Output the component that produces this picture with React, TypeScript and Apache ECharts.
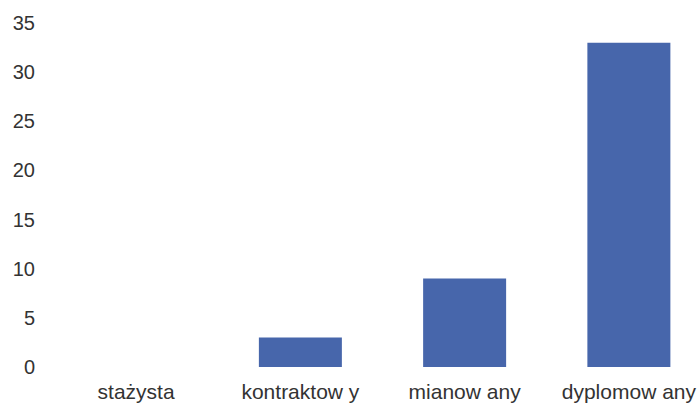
import React, { useEffect, useRef } from "react";
import * as echarts from "echarts";

const categories = ["stażysta", "kontraktow y", "mianow any", "dyplomow any"];
const values = [0, 3, 9, 33];
const yMax = 35;
const yInterval = 5;

export default function App() {
  const ref = useRef<HTMLDivElement>(null);
  useEffect(() => {
    if (!ref.current) return;
    const chart = echarts.init(ref.current, null, { renderer: "svg" });
    chart.setOption({
      animation: false,
      backgroundColor: "#ffffff",
      grid: { left: 54, top: 23, right: 9, bottom: 42, containLabel: false },
      xAxis: {
        type: "category",
        data: categories,
        axisLine: { show: false },
        axisTick: { show: false },
        axisLabel: {
          color: "#333333",
          fontFamily: "Liberation Sans, Arial, sans-serif",
          fontSize: 21,
          margin: 14,
          interval: 0,
        },
      },
      yAxis: {
        type: "value",
        min: 0,
        max: yMax,
        interval: yInterval,
        axisLine: { show: false },
        axisTick: { show: false },
        splitLine: { show: false },
        axisLabel: {
          color: "#333333",
          fontFamily: "Liberation Sans, Arial, sans-serif",
          fontSize: 20,
          margin: 19,
          align: "right",
        },
      },
      series: [
        {
          type: "bar",
          data: values,
          barWidth: 83,
          itemStyle: { color: "#4766ab" },
        },
      ],
    });
    return () => chart.dispose();
  }, []);
  return (
    <div
      style={{
        position: "fixed",
        left: 0,
        top: 0,
        width: 699,
        height: 409,
        overflow: "hidden",
        background: "#ffffff",
      }}
    >
      <div ref={ref} style={{ width: 720, height: 409 }} />
    </div>
  );
}
